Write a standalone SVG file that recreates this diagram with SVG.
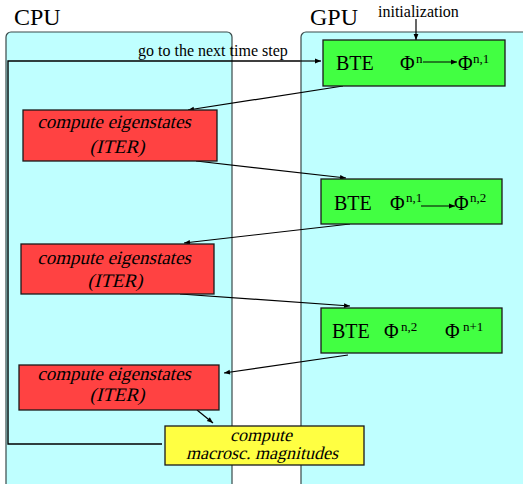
<svg xmlns="http://www.w3.org/2000/svg" width="523" height="484" viewBox="0 0 523 484">
  <defs>
    <marker id="arr" viewBox="0 0 10 10" refX="10" refY="5" markerWidth="9" markerHeight="6" orient="auto" markerUnits="userSpaceOnUse">
      <path d="M0,1 L10,5 L0,9 z" fill="#000"/>
    </marker>
  </defs>
  <style>
    .panel { fill: #bfffff; stroke: #3a4a4a; stroke-width: 1.2; }
    .title { font-family: "Liberation Serif", "DejaVu Serif", serif; font-size: 24px; fill: #000; }
    .lbl { font-family: "Liberation Serif", "DejaVu Serif", serif; font-size: 16px; fill: #000; }
    .red { fill: #ff4242; stroke: #1a1a1a; stroke-width: 1.3; }
    .green { fill: #42ff42; stroke: #1a1a1a; stroke-width: 1.3; }
    .yellow { fill: #ffff42; stroke: #1a1a1a; stroke-width: 1.3; }
    /* slanted serif for the CPU task captions */
    .it { font-family: "Liberation Serif", "DejaVu Serif", serif; font-size: 19px; fill: #000; text-anchor: middle; }
    .it.sm { font-size: 18px; }
    .bte { font-family: "Liberation Serif", "DejaVu Serif", serif; font-size: 20px; fill: #000; }
    .sup { font-family: "Liberation Serif", "DejaVu Serif", serif; font-size: 13px; fill: #000; }
    .edge { fill: none; stroke: #000; stroke-width: 1.2; marker-end: url(#arr); }
    .loop { fill: none; stroke: #000; stroke-width: 1.4; }
  </style>

  <!-- processor lanes -->
  <g id="cpu-lane">
    <rect class="panel" x="6" y="32" width="226" height="460" rx="5"/>
    <text class="title" x="14" y="25">CPU</text>
  </g>
  <g id="gpu-lane">
    <rect class="panel" x="301" y="32" width="240" height="460" rx="5"/>
    <text class="title" x="310" y="25">GPU</text>
  </g>

  <!-- connectors -->
  <g id="connectors">
    <line class="edge" x1="416" y1="19" x2="416" y2="40"/>
    <text class="lbl" x="378" y="17">initialization</text>
    <polyline class="loop" points="162,444 8,444 8,61 300,61"/>
    <line class="edge" x1="300" y1="61" x2="321" y2="61"/>
    <text class="lbl" x="138" y="56">go to the next time step</text>
    <line class="edge" x1="343" y1="86" x2="188" y2="110"/>
    <line class="edge" x1="196" y1="161" x2="346" y2="178"/>
    <line class="edge" x1="350" y1="224" x2="184" y2="243"/>
    <line class="edge" x1="180" y1="294" x2="350" y2="306"/>
    <line class="edge" x1="348" y1="355" x2="224" y2="373"/>
    <line class="edge" x1="197" y1="410" x2="213" y2="423"/>
  </g>

  <!-- GPU solver steps -->
  <g id="bte1">
    <rect class="green" x="323" y="40" width="182" height="46"/>
    <text class="bte" x="336" y="70">BTE</text>
    <text class="bte" x="400" y="70">Φ</text>
    <text class="sup" x="416" y="63">n</text>
    <line class="edge" x1="423" y1="62" x2="457" y2="62"/>
    <text class="bte" x="458" y="70">Φ</text>
    <text class="sup" x="473" y="63">n,1</text>
  </g>
  <g id="bte2">
    <rect class="green" x="321" y="179" width="181" height="45"/>
    <text class="bte" x="334" y="210">BTE</text>
    <text class="bte" x="390" y="210">Φ</text>
    <text class="sup" x="406" y="202">n,1</text>
    <line class="edge" x1="421" y1="206" x2="455" y2="206"/>
    <text class="bte" x="454" y="210">Φ</text>
    <text class="sup" x="470" y="202">n,2</text>
  </g>
  <g id="bte3">
    <rect class="green" x="321" y="308" width="181" height="45"/>
    <text class="bte" x="332" y="338">BTE</text>
    <text class="bte" x="384" y="338">Φ</text>
    <text class="sup" x="401" y="331">n,2</text>
    <text class="bte" x="445" y="338">Φ</text>
    <text class="sup" x="463" y="331">n+1</text>
  </g>

  <!-- CPU eigenstate steps -->
  <g id="eig1">
    <rect class="red" x="23" y="110" width="194" height="51"/>
    <text class="it" transform="translate(114,128) skewX(-14)">compute eigenstates</text>
    <text class="it" transform="translate(117,153) skewX(-14)">(ITER)</text>
  </g>
  <g id="eig2">
    <rect class="red" x="21" y="244" width="193" height="50"/>
    <text class="it" transform="translate(114,264) skewX(-14)">compute eigenstates</text>
    <text class="it" transform="translate(115,287) skewX(-14)">(ITER)</text>
  </g>
  <g id="eig3">
    <rect class="red" x="19" y="365" width="200" height="45"/>
    <text class="it" transform="translate(114,380) skewX(-14)">compute eigenstates</text>
    <text class="it" transform="translate(117,401) skewX(-14)">(ITER)</text>
  </g>
  <g id="macro">
    <rect class="yellow" x="165" y="426" width="199" height="39"/>
    <text class="it sm" transform="translate(261,441) skewX(-14)">compute</text>
    <text class="it sm" transform="translate(262,459) skewX(-14)">macrosc. magnitudes</text>
  </g>
</svg>
